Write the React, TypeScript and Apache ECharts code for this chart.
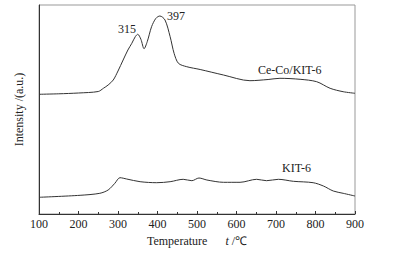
import React, { useEffect, useRef } from "react";
import * as echarts from "echarts";

const xTicks = [100, 200, 300, 400, 500, 600, 700, 800, 900];

const ceCoTemps = [100, 150, 200, 250, 263, 275, 288, 300, 313, 325, 335, 344, 350, 358, 366, 374, 385, 396, 406, 419, 432, 442, 453, 474, 508, 567, 634, 680, 710, 761, 803, 837, 870, 900];
const ceCoValues = [119.7, 120.2, 121, 122.5, 125.7, 129, 134, 143, 154, 164, 170.7, 177.5, 179.7, 174.7, 165.3, 172.3, 187.3, 195.7, 198, 194, 177.3, 160.7, 150.7, 147.3, 144.5, 139, 133.3, 134.5, 135.7, 134.7, 132.3, 125.7, 122.3, 120.7];

const kitTemps = [100, 204, 254, 275, 292, 305, 322, 356, 398, 432, 465, 487, 505, 525, 567, 609, 651, 676, 706, 744, 794, 820, 845, 870, 900];
const kitValues = [16.7, 18.7, 20.7, 24, 30.7, 36.3, 35, 32.3, 31.3, 32.3, 34.7, 33.3, 36, 34, 31.7, 31.7, 34.7, 33.3, 34.7, 32.7, 31.3, 28, 23, 20.7, 18];

const seriesNames = ["Ce-Co/KIT-6", "KIT-6"];
const peakLabels = ["315", "397"];

const FONT = "'Liberation Serif', 'Times New Roman', serif";

export default function App() {
  const ref = useRef<HTMLDivElement>(null);
  useEffect(() => {
    if (!ref.current) return;
    const chart = echarts.init(ref.current, null, { renderer: "svg" });
    const zip = (xs: number[], ys: number[]) => xs.map((x, i) => [x, ys[i]]);
    chart.setOption({
      animation: false,
      backgroundColor: "#fff",
      textStyle: { fontFamily: FONT },
      grid: {
        left: 39,
        right: 40,
        top: 5,
        bottom: 42,
        show: true,
        borderColor: "#999",
        borderWidth: 1,
      },
      xAxis: {
        type: "value",
        min: 100,
        max: 900,
        interval: 100,
        axisLine: { show: true, lineStyle: { color: "#333", width: 1 } },
        axisTick: { show: true, inside: true, length: 3, lineStyle: { color: "#333" } },
        minorTick: { show: true, splitNumber: 2, length: 2, lineStyle: { color: "#333" } },
        splitLine: { show: false },
        axisLabel: {
          color: "#222",
          fontSize: 12,
          fontFamily: FONT,
          margin: 4,
          formatter: (v: number) => (xTicks.includes(v) ? String(v) : ""),
        },
        name: "{a|Temperature}      {b|t} {a|/℃}",
        nameLocation: "middle",
        nameGap: 18,
        nameTextStyle: {
          rich: {
            a: { fontSize: 12, fontFamily: FONT, color: "#222" },
            b: { fontSize: 12, fontFamily: FONT, color: "#222", fontStyle: "italic" },
          },
        },
      },
      yAxis: {
        type: "value",
        min: 0,
        max: 209,
        axisLine: { show: true, lineStyle: { color: "#333", width: 1 } },
        axisTick: { show: false },
        axisLabel: { show: false },
        splitLine: { show: false },
        name: "Intensity /(a.u.)",
        nameLocation: "middle",
        nameGap: 14,
        nameTextStyle: { fontSize: 12, fontFamily: FONT, color: "#222" },
      },
      series: [
        {
          name: seriesNames[0],
          type: "line",
          data: zip(ceCoTemps, ceCoValues),
          smooth: 0.3,
          symbol: "none",
          lineStyle: { color: "#333", width: 1 },
        },
        {
          name: seriesNames[1],
          type: "line",
          data: zip(kitTemps, kitValues),
          smooth: 0.3,
          symbol: "none",
          lineStyle: { color: "#333", width: 1 },
        },
      ],
      graphic: [
        { type: "text", left: 118, top: 23, style: { text: peakLabels[0], fontSize: 12, fontFamily: FONT, fill: "#222" } },
        { type: "text", left: 167, top: 10, style: { text: peakLabels[1], fontSize: 12, fontFamily: FONT, fill: "#222" } },
        { type: "text", left: 258, top: 64, style: { text: seriesNames[0], fontSize: 12, fontFamily: FONT, fill: "#222" } },
        { type: "text", left: 282, top: 162, style: { text: seriesNames[1], fontSize: 12, fontFamily: FONT, fill: "#222" } },
      ],
    });
    return () => chart.dispose();
  }, []);
  return <div ref={ref} style={{ width: 395, height: 256, position: "absolute", left: 0, top: 0 }} />;
}
